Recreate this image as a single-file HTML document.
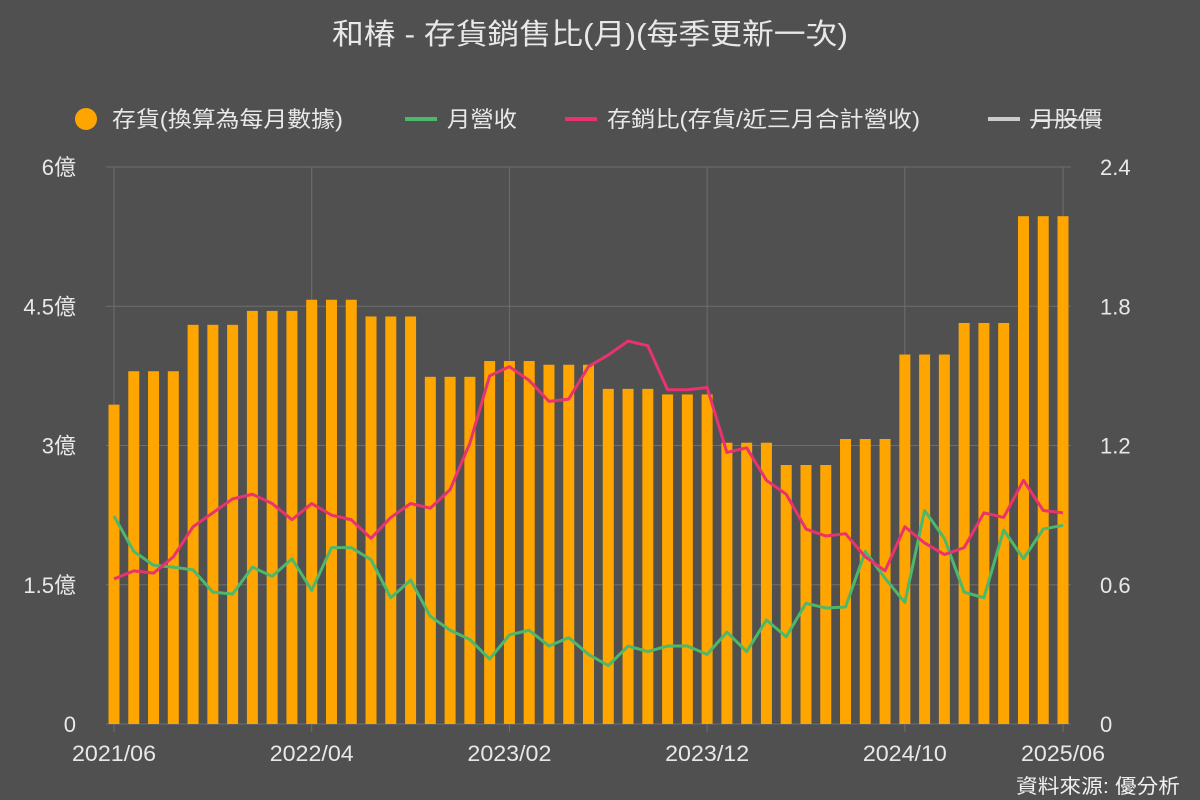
<!DOCTYPE html>
<html><head><meta charset="utf-8">
<style>
html,body{margin:0;padding:0;background:#505050;}
svg{display:block;font-family:"Liberation Sans","Noto Sans CJK TC",sans-serif;}
</style></head>
<body>
<svg id="chart" width="1200" height="800" xmlns="http://www.w3.org/2000/svg">
<rect x="0" y="0" width="1200" height="800" fill="#505050"/>
<text x="332" y="44" fill="#e8e8e8" font-size="29" textLength="516" lengthAdjust="spacingAndGlyphs">和椿 - 存貨銷售比(月)(每季更新一次)</text>
<g>
<g><circle cx="86" cy="119" r="11" fill="#FFA500"/><text x="112" y="127" fill="#e8e8e8" font-size="22" textLength="231" lengthAdjust="spacingAndGlyphs">存貨(換算為每月數據)</text></g>
<g><line x1="405" y1="119" x2="437" y2="119" stroke="#4cb86b" stroke-width="4"/><text x="447" y="127" fill="#e8e8e8" font-size="22" textLength="70" lengthAdjust="spacingAndGlyphs">月營收</text></g>
<g><line x1="565" y1="119" x2="597" y2="119" stroke="#e8336e" stroke-width="4"/><text x="607" y="127" fill="#e8e8e8" font-size="22" textLength="313" lengthAdjust="spacingAndGlyphs">存銷比(存貨/近三月合計營收)</text></g>
<g><line x1="988" y1="119" x2="1020" y2="119" stroke="#cccccc" stroke-width="4"/><text x="1030" y="127" fill="#e8e8e8" font-size="22" textLength="72" lengthAdjust="spacingAndGlyphs">月股價</text><line x1="1030" y1="120" x2="1102" y2="120" stroke="#e8e8e8" stroke-width="1.5"/></g>
</g>
<g id="grid"></g>
<g id="bars"></g>
<g id="lines"></g>
<g id="axes"></g>
<text x="1016" y="793" fill="#f0f0f0" font-size="20" textLength="164" lengthAdjust="spacingAndGlyphs">資料來源: 優分析</text>
</svg>
<script>
const inventory=[3.44,3.80,3.80,3.80,4.30,4.30,4.30,4.45,4.45,4.45,4.57,4.57,4.57,4.39,4.39,4.39,3.74,3.74,3.74,3.91,3.91,3.91,3.87,3.87,3.87,3.61,3.61,3.61,3.55,3.55,3.55,3.03,3.03,3.03,2.79,2.79,2.79,3.07,3.07,3.07,3.98,3.98,3.98,4.32,4.32,4.32,5.47,5.47,5.47];
const revenue=[2.24,1.86,1.71,1.69,1.66,1.42,1.40,1.69,1.59,1.78,1.44,1.90,1.90,1.77,1.36,1.55,1.16,1.01,0.91,0.70,0.96,1.01,0.84,0.93,0.75,0.63,0.84,0.78,0.84,0.84,0.75,0.99,0.78,1.12,0.94,1.30,1.25,1.26,1.86,1.57,1.31,2.30,2.00,1.42,1.36,2.09,1.78,2.10,2.14];
const ratio=[0.625,0.66,0.65,0.72,0.85,0.91,0.97,0.99,0.95,0.88,0.95,0.90,0.88,0.80,0.89,0.95,0.93,1.01,1.21,1.50,1.54,1.48,1.39,1.40,1.54,1.59,1.65,1.63,1.44,1.44,1.45,1.17,1.19,1.05,0.99,0.84,0.81,0.82,0.72,0.66,0.85,0.78,0.73,0.76,0.91,0.89,1.05,0.92,0.91];
const leftTicks=[0,1.5,3,4.5,6];
const leftLabels=["0","1.5億","3億","4.5億","6億"];
const rightLabels=["0","0.6","1.2","1.8","2.4"];
const xTickIdx=[0,10,20,30,40,48];
const xTickLabels=["2021/06","2022/04","2023/02","2023/12","2024/10","2025/06"];
const X0=114,X1=1063,Y0=724,Y1=167;
const n=inventory.length;
const x=i=>X0+(X1-X0)*i/(n-1);
const yL=v=>Y0-(Y0-Y1)*v/6;
const yR=v=>Y0-(Y0-Y1)*v/2.4;
const NS="http://www.w3.org/2000/svg";
function mk(tag,attrs,parent){const e=document.createElementNS(NS,tag);for(const k in attrs)e.setAttribute(k,attrs[k]);parent.appendChild(e);return e;}
const grid=document.getElementById('grid'),bars=document.getElementById('bars'),lines=document.getElementById('lines'),axes=document.getElementById('axes');
leftTicks.forEach((t,i)=>{
 const l=mk('line',{x1:X0-8,x2:X1+8,y1:yL(t),y2:yL(t),stroke:'#6e6e6e','stroke-width':1},grid);
 
 
 const a=mk('text',{x:76,y:yL(t)+8,fill:'#e8e8e8','font-size':22,'text-anchor':'end'},axes);a.textContent=leftLabels[i];
 
 
 const b=mk('text',{x:1100,y:yL(t)+8,fill:'#e8e8e8','font-size':22},axes);b.textContent=rightLabels[i];
 
 
});
xTickIdx.forEach((idx,i)=>{
 const l=mk('line',{x1:x(idx),x2:x(idx),y1:Y1,y2:Y0+8,stroke:'#6e6e6e','stroke-width':1},grid);
 
 
 const t=mk('text',{x:x(idx),y:761,fill:'#e8e8e8','font-size':22,'text-anchor':'middle',textLength:84,lengthAdjust:'spacingAndGlyphs'},axes);t.textContent=xTickLabels[i];
 
 
});
inventory.forEach((v,i)=>{
 const r=mk('rect',{x:x(i)-5.5,y:yL(v),width:11,height:Y0-yL(v),fill:'#FFA500'},bars);
 
 
});
const p1=mk('polyline',{points:revenue.map((v,i)=>x(i)+','+yL(v)).join(' '),fill:'none',stroke:'#4cb86b','stroke-width':3,'stroke-linejoin':'round'},lines);


const p2=mk('polyline',{points:ratio.map((v,i)=>x(i)+','+yR(v)).join(' '),fill:'none',stroke:'#e8336e','stroke-width':3,'stroke-linejoin':'round'},lines);


</script>
</body></html>
